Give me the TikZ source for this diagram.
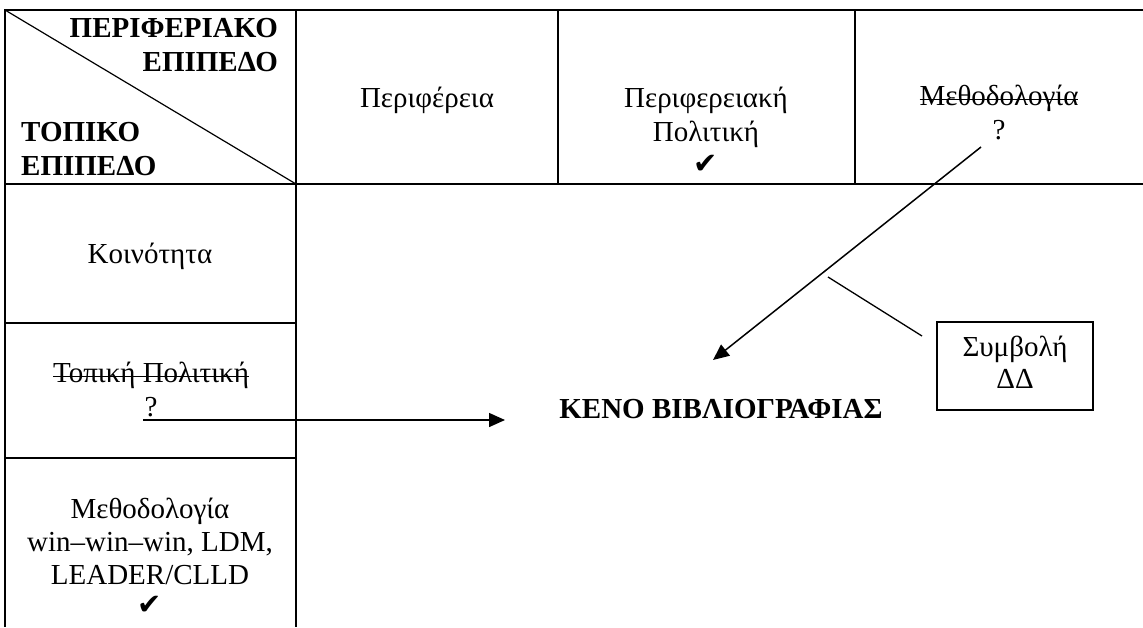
\documentclass[tikz,border=0pt]{standalone}
\usepackage{fontspec}
\setmainfont{Liberation Serif}
\newfontfamily\symfont{DejaVu Sans}
\usetikzlibrary{arrows.meta}
\newcommand{\mycell}[1]{\begin{tabular}[t]{@{}c@{}}#1\end{tabular}}
\newcommand{\mycheck}{{\symfont\fontsize{29}{33}\selectfont ✔}}
\newcommand{\strk}[1]{\setbox0\hbox{#1}\rlap{\raise 4.8pt\hbox{\vrule width\wd0 height 1.3pt depth 0pt}}\box0}
\begin{document}
\begin{tikzpicture}[x=1pt,y=-1pt,
  txt/.style={inner sep=0pt,font=\fontsize{29}{34}\selectfont},
  btxt/.style={inner sep=0pt,font=\fontsize{29}{34.5}\selectfont\bfseries},
  grid/.style={line width=2.4pt},
  thin line/.style={line width=1.2pt},
  arr/.style={line width=1.5pt,-{Triangle[length=16pt,width=14pt]}},
  boxstyle/.style={draw,line width=1.6pt,minimum width=156pt,minimum height=88pt,inner sep=0pt,font=\fontsize{29}{32}\selectfont}]
\useasboundingbox (0,0) rectangle (1143,627);
% table grid
\draw[grid] (1143,10) -- (5,10) -- (5,627);
\draw[grid] (5,184) -- (1143,184);
\draw[grid] (296,10) -- (296,627);
\draw[grid] (558,10) -- (558,184);
\draw[grid] (855,10) -- (855,184);
\draw[grid] (5,323) -- (296,323);
\draw[grid] (5,458) -- (296,458);
\draw[thin line] (5,10) -- (296,184);
% header cell
\node[btxt,anchor=base east] (hreg) at (278,37) {\begin{tabular}[t]{@{}r@{}}ΠΕΡΙΦΕΡΙΑΚΟ\\ΕΠΙΠΕΔΟ\end{tabular}};
\node[btxt,anchor=base west] (hloc) at (21,141) {\begin{tabular}[t]{@{}l@{}}ΤΟΠΙΚΟ\\ΕΠΙΠΕΔΟ\end{tabular}};
% top row
\node[txt,anchor=base] (per) at (427,107) {Περιφέρεια};
\node[txt,anchor=base] (perpol) at (706,107) {\mycell{Περιφερειακή\\Πολιτική\\[-2pt]\mycheck}};
\node[txt,anchor=base] (permeth) at (999,105) {\mycell{\strk{Μεθοδολογία}\\?}};
% left column
\node[txt,anchor=base] (koin) at (150,263) {Κοινότητα};
\node[txt,anchor=base] (toppol) at (151,382) {\mycell{\strk{Τοπική Πολιτική}\\?}};
\node[txt,anchor=base,font=\fontsize{29}{33}\selectfont] (topmeth) at (150,518) {\mycell{Μεθοδολογία\\win–win–win, LDM,\\LEADER/CLLD\\[-3pt]\mycheck}};
% centre
\node[btxt,anchor=base] (keno) at (721,418) {ΚΕΝΟ ΒΙΒΛΙΟΓΡΑΦΙΑΣ};
\node[boxstyle] (symv) at (1015,366) {\mycell{Συμβολή\\ΔΔ}};
% connectors
\coordinate (a1s) at (143,420);
\coordinate (a1e) at (505,420);
\coordinate (a2s) at (981,147);
\coordinate (a2e) at (713,360);
\coordinate (l1s) at (828,277);
\coordinate (l1e) at (922,336);
\draw[arr] (a1s) -- (a1e);
\draw[arr] (a2s) -- (a2e);
\draw[line width=1.3pt] (l1s) -- (l1e);
\end{tikzpicture}
\end{document}
